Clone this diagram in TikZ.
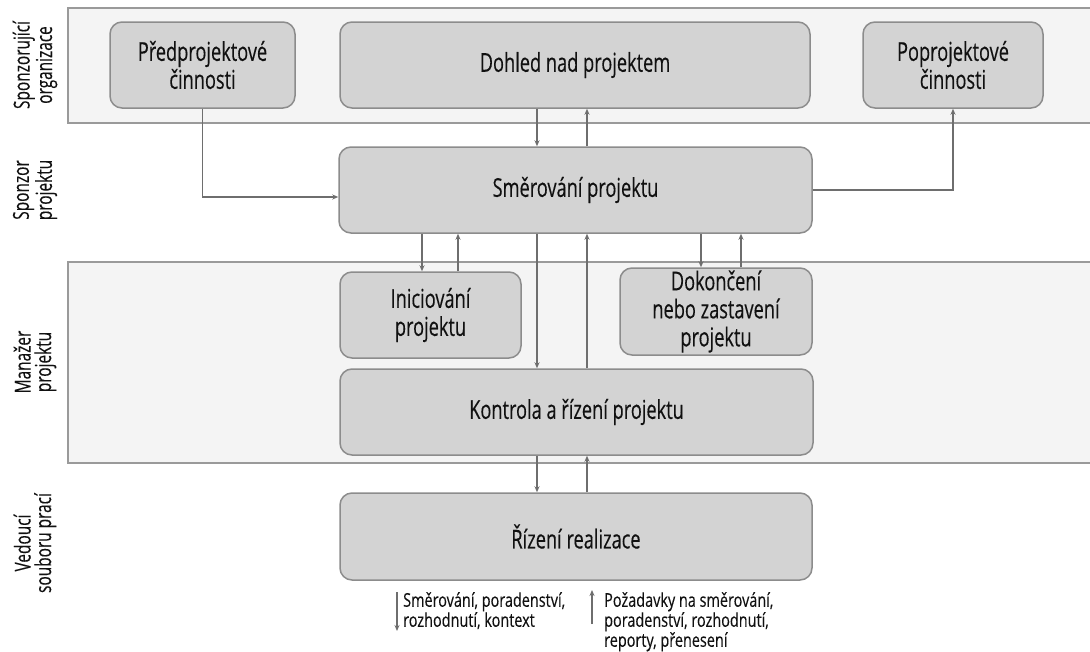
\documentclass[tikz,border=0pt]{standalone}
\usepackage{fontspec}
\setmainfont{Open Sans}[FakeStretch=0.70,FakeBold=0.25]
\newfontfamily\sidefont{Open Sans}[FakeStretch=0.70,FakeBold=0.2]
\newfontfamily\legfont{Open Sans}[FakeStretch=0.76,FakeBold=0.2]
\usetikzlibrary{arrows.meta}
\definecolor{boxfill}{HTML}{D3D3D3}
\definecolor{boxline}{HTML}{8C8C8C}
\definecolor{bandfill}{HTML}{F4F4F4}
\definecolor{bandline}{HTML}{9A9A9A}
\definecolor{arrcol}{HTML}{6E6E6E}
\definecolor{txt}{HTML}{111111}
\begin{document}
\begin{tikzpicture}[x=1pt,y=-1pt,
  box/.style={draw=boxline, fill=boxfill, line width=1.5pt, rounded corners=12pt, inner sep=0pt, align=center, text=txt, font=\fontsize{26}{28}\selectfont},
  bandedge/.style={draw=bandline, line width=1.5pt},
  arr/.style={draw=arrcol, line width=1.4pt, -{Stealth[length=6pt,width=5pt]}},
  side/.style={rotate=90, align=center, text=txt, inner sep=0pt, font=\sidefont\fontsize{22}{20.5}\selectfont},
  legend/.style={anchor=north west, align=left, inner sep=0pt, text=txt, font=\legfont\fontsize{19}{20}\selectfont}]
\useasboundingbox (0,0) rectangle (1090,651);
\fill[white] (0,0) rectangle (1090,651);
% bands
\fill[bandfill] (68,8) rectangle (1090,123);
\draw[bandedge] (1090,8) -| (68,123) -- (1090,123);
\fill[bandfill] (68,262) rectangle (1090,463);
\draw[bandedge] (1090,262) -| (68,463) -- (1090,463);
% side labels
\node[side] (l1) at (35,65) {Sponzorující\\organizace};
\node[side] (l2) at (35,190) {Sponzor\\projektu};
\node[side] (l3) at (35,362) {Manažer\\projektu};
\node[side] (l4) at (35,543) {Vedoucí\\souboru prací};
% boxes
\node[box, minimum width=185pt, minimum height=86pt] (pre) at (202.5,65) {Předprojektové\\činnosti};
\node[box, minimum width=470pt, minimum height=86pt] (doh) at (575,65) {Dohled nad projektem};
\node[box, minimum width=180pt, minimum height=86pt] (post) at (953,65) {Poprojektové\\činnosti};
\node[box, minimum width=473pt, minimum height=86pt] (smer) at (575.5,190) {Směrování projektu};
\node[box, minimum width=181pt, minimum height=86pt] (init) at (430.5,315) {Iniciování\\projektu};
\node[box, minimum width=192pt, minimum height=87pt] (dok) at (716,311.5) {Dokončení\\nebo zastavení\\projektu};
\node[box, minimum width=473pt, minimum height=86pt] (kon) at (576.5,412) {Kontrola a řízení projektu};
\node[box, minimum width=472pt, minimum height=87pt] (riz) at (576,536.5) {Řízení realizace};
% connector x positions
\coordinate (xa) at (537,0);
\coordinate (xb) at (587,0);
\coordinate (xc) at (422,0);
\coordinate (xd) at (458,0);
\coordinate (xe) at (701,0);
\coordinate (xf) at (741,0);
\coordinate (ypre) at (0,197);
% connectors
\draw[arr] (doh.south -| xa) -- (smer.north -| xa);
\draw[arr] (smer.north -| xb) -- (doh.south -| xb);
\draw[arr] (pre.south) |- (smer.west |- ypre);
\draw[arr] (smer.east) -| (post.south);
\draw[arr] (smer.south -| xc) -- (init.north -| xc);
\draw[arr] (init.north -| xd) -- (smer.south -| xd);
\draw[arr] (smer.south -| xe) -- (dok.north -| xe);
\draw[arr] (dok.north -| xf) -- (smer.south -| xf);
\draw[arr] (smer.south -| xa) -- (kon.north -| xa);
\draw[arr] (kon.north -| xb) -- (smer.south -| xb);
\draw[arr] (kon.south -| xa) -- (riz.north -| xa);
\draw[arr] (riz.north -| xb) -- (kon.south -| xb);
% legend
\node[legend] (lg1) at (403,592) {Směrování, poradenství,\\rozhodnutí, kontext};
\node[legend] (lg2) at (604,592) {Požadavky na směrování,\\poradenství, rozhodnutí,\\reporty, přenesení};
\coordinate (d1) at (397,592);
\coordinate (d2) at (397,631);
\coordinate (u1) at (592,624);
\coordinate (u2) at (592,590);
\draw[arr] (d1) -- (d2);
\draw[arr] (u1) -- (u2);
\end{tikzpicture}
\end{document}
